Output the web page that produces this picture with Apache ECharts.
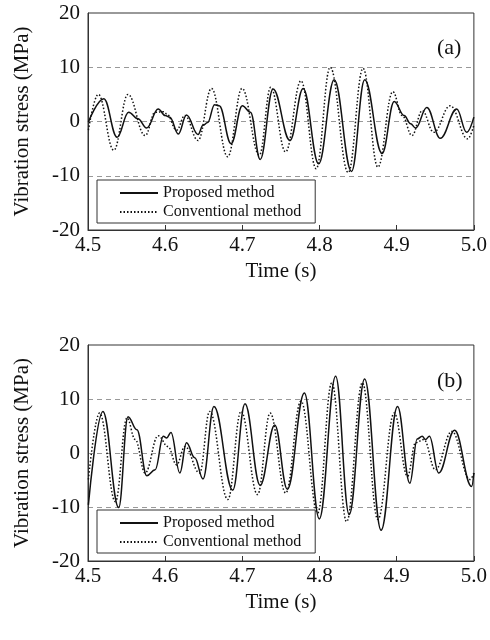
<!DOCTYPE html>
<html>
<head>
<meta charset="utf-8">
<script src="https://cdn.jsdelivr.net/npm/echarts@6/dist/echarts.min.js"></script>
<style>html,body{margin:0;padding:0;background:#fff}#c{width:490px;height:640px}</style>
</head>
<body>
<div id="c"></div>
<script>
var xTicks = [4.5, 4.6, 4.7, 4.8, 4.9, 5.0];
var yTicks = [-20, -10, 0, 10, 20];
var seriesNames = ['Proposed method', 'Conventional method'];
var panelLabels = ['(a)', '(b)'];

var propA = [[4.5005,-0.1],[4.5205,4.2],[4.5377,-2.9],[4.5527,1.7],[4.5647,0.5],[4.576,-1.2],[4.591,2.3],[4.600,1.1],[4.606,0.8],[4.617,-2.3],[4.6276,1.2],[4.6426,-2.4],[4.649,-0.7],[4.655,-0.2],[4.664,3.1],[4.670,2.9],[4.6854,-4.1],[4.700,2.9],[4.7105,1.7],[4.7231,-7.0],[4.7398,6.0],[4.7617,-3.5],[4.7788,6.1],[4.7989,-7.8],[4.819,7.7],[4.8415,-9.2],[4.8585,7.7],[4.8811,-5.9],[4.8968,3.7],[4.9096,1.1],[4.918,-0.4],[4.9245,-1.2],[4.939,2.6],[4.9565,-3.1],[4.9778,2.3],[4.9906,-2.0],[5.0,0.8]];
var convA = [[4.5005,-1.6],[4.5133,5.0],[4.5334,-5.3],[4.5518,5.0],[4.574,-2.6],[4.587,1.7],[4.598,1.8],[4.602,1.4],[4.6148,-1.6],[4.6255,1.1],[4.6426,-3.5],[4.660,6.1],[4.681,-6.5],[4.6996,6.1],[4.722,-6.2],[4.7368,6.3],[4.756,-5.6],[4.776,7.5],[4.7957,-8.7],[4.8138,10.0],[4.8372,-9.4],[4.8564,9.8],[4.8756,-8.4],[4.895,5.5],[4.9071,1.1],[4.9198,-2.6],[4.9331,2.0],[4.948,-2.0],[4.9693,2.9],[4.992,-3.2],[5.0,-0.7]];
var propB = [[4.5005,-9.6],[4.5193,7.7],[4.5398,-10.1],[4.5518,6.7],[4.5634,4.3],[4.5762,-4.2],[4.587,-3.1],[4.5976,3.1],[4.602,2.8],[4.6075,3.8],[4.619,-3.7],[4.6276,1.9],[4.6383,-0.9],[4.649,-4.8],[4.6632,8.6],[4.6876,-6.9],[4.7034,9.1],[4.7231,-6.0],[4.742,5.2],[4.7583,-6.7],[4.7804,11.1],[4.7997,-12.2],[4.8209,14.2],[4.8384,-11.4],[4.8585,13.7],[4.8798,-14.3],[4.9011,8.6],[4.917,-5.6],[4.9266,2.6],[4.9330,3.1],[4.9373,2.5],[4.9424,3.1],[4.9544,-3.7],[4.975,4.2],[4.9971,-6.2],[5.0,-3.7]];
var convB = [[4.5005,-4.9],[4.515,7.4],[4.5355,-9.0],[4.5505,6.5],[4.5612,2.5],[4.574,-3.7],[4.591,3.2],[4.6036,1.2],[4.6148,-2.2],[4.6255,1.2],[4.6447,-3.7],[4.6576,7.7],[4.6812,-8.6],[4.6983,7.7],[4.7197,-7.7],[4.736,7.4],[4.7562,-7.4],[4.776,9.6],[4.7976,-11.1],[4.8159,13.0],[4.8351,-12.7],[4.8555,13.0],[4.8756,-12.3],[4.8968,7.4],[4.914,-4.3],[4.9245,1.9],[4.9352,2.5],[4.9501,-3.1],[4.9715,4.0],[4.9950,-4.9],[5.0,-3.7]];

var FONT = 'Liberation Serif';
var chart = echarts.init(document.getElementById('c'), null, {renderer: 'canvas'});

var grids = [
  {left: 88, top: 13, width: 392, height: 217},
  {left: 88, top: 345, width: 392, height: 216}
];

function xAxis(i) {
  return {
    type: 'value', gridIndex: i, min: xTicks[0], max: xTicks[xTicks.length-1], interval: 0.1,
    name: 'Time (s)', nameLocation: 'middle', nameGap: 31,
    nameTextStyle: {fontFamily: FONT, fontSize: 21, color: '#111'},
    axisLine: {show: true, onZero: false, lineStyle: {color: '#333', width: 1}},
    axisTick: {show: true, inside: true, length: 5, lineStyle: {color: '#333'}},
    axisLabel: {fontFamily: FONT, fontSize: 21, color: '#111', margin: 5, formatter: function(v){return v.toFixed(1);}},
    splitLine: {show: false}
  };
}
function yAxis(i) {
  return {
    type: 'value', gridIndex: i, min: yTicks[0], max: yTicks[yTicks.length-1], interval: 10,
    name: 'Vibration stress (MPa)', nameLocation: 'middle', nameGap: 55, nameRotate: 90,
    nameTextStyle: {fontFamily: FONT, fontSize: 21, color: '#111'},
    axisLine: {show: true, onZero: false, lineStyle: {color: '#333', width: 1}},
    axisTick: {show: false},
    axisLabel: {fontFamily: FONT, fontSize: 21, color: '#111', margin: 8},
    splitLine: {show: true, lineStyle: {color: '#999', type: [5, 4], width: 1}}
  };
}

function legend(top) {
  return {orient: 'vertical', left: 97, top: top, data: seriesNames, backgroundColor: '#fff', borderColor: '#333', borderWidth: 1,
    padding: [5, 14, 3, 22], itemGap: 3, itemWidth: 38, itemHeight: 16,
    itemStyle: {opacity: 0},
    textStyle: {fontFamily: FONT, fontSize: 16, color: '#111'}, selectedMode: false};
}

var option = {
  backgroundColor: '#fff',
  animation: false,
  grid: grids.map(function(g){ return Object.assign({show: true, borderColor: '#333', borderWidth: 1, backgroundColor: 'transparent'}, g); }),
  xAxis: [xAxis(0), xAxis(1)],
  yAxis: [yAxis(0), yAxis(1)],
  legend: [legend(180), legend(510)],
  graphic: [
    {type: 'text', left: 437, top: 37, style: {text: panelLabels[0], font: '22px "Liberation Serif"', fill: '#111'}},
    {type: 'text', left: 437, top: 370, style: {text: panelLabels[1], font: '22px "Liberation Serif"', fill: '#111'}}
  ],
  series: [
    {name: seriesNames[0], type: 'line', xAxisIndex: 0, yAxisIndex: 0, data: propA, showSymbol: false, symbol: 'none', smooth: 0.4, smoothMonotone: 'x', lineStyle: {color: '#111', width: 1.5, type: 'solid'}, itemStyle: {color: '#111'}, z: 3},
    {name: seriesNames[1], type: 'line', xAxisIndex: 0, yAxisIndex: 0, data: convA, showSymbol: false, symbol: 'none', smooth: 0.4, smoothMonotone: 'x', lineStyle: {color: '#111', width: 1.5, type: [1.5, 2]}, itemStyle: {color: '#111'}, z: 2},
    {name: seriesNames[0], type: 'line', xAxisIndex: 1, yAxisIndex: 1, data: propB, showSymbol: false, symbol: 'none', smooth: 0.4, smoothMonotone: 'x', lineStyle: {color: '#111', width: 1.5, type: 'solid'}, itemStyle: {color: '#111'}, z: 3},
    {name: seriesNames[1], type: 'line', xAxisIndex: 1, yAxisIndex: 1, data: convB, showSymbol: false, symbol: 'none', smooth: 0.4, smoothMonotone: 'x', lineStyle: {color: '#111', width: 1.5, type: [1.5, 2]}, itemStyle: {color: '#111'}, z: 2}
  ]
};
chart.setOption(option);
</script>
</body>
</html>
